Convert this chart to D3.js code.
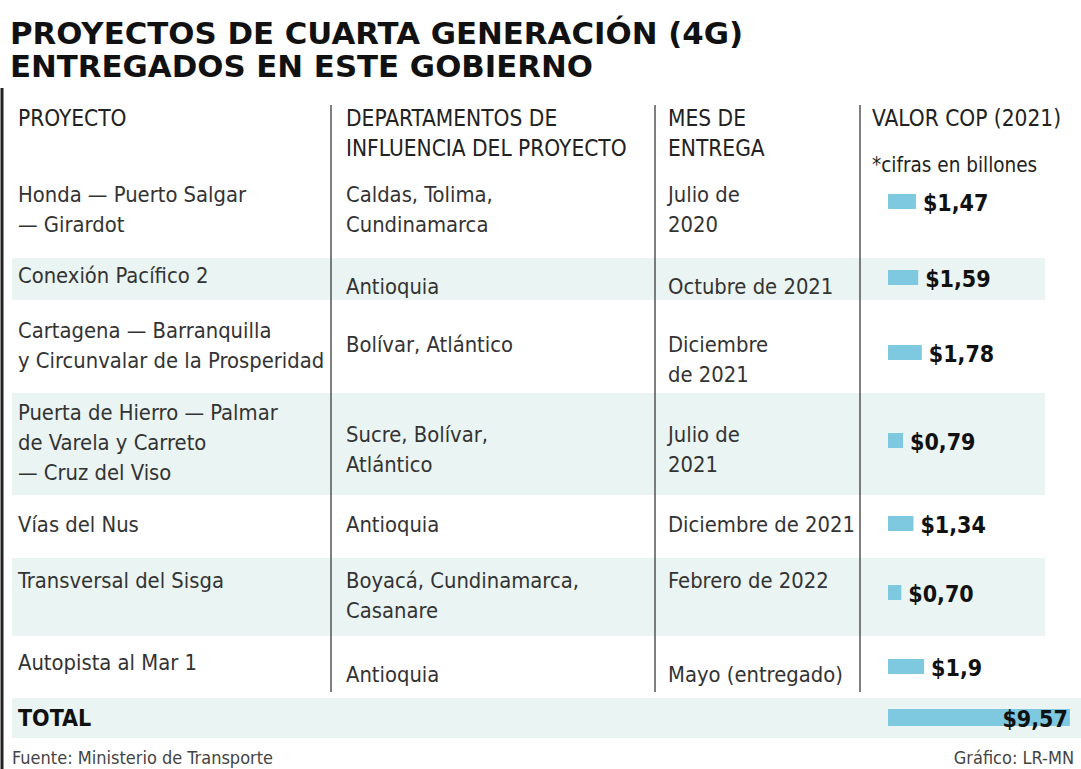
<!DOCTYPE html>
<html><head><meta charset="utf-8">
<script src="https://cdn.jsdelivr.net/npm/d3@7"></script>
<style>body{margin:0;background:#fff}</style>
</head><body><div id="graf"></div>
<script>
// Datos
const proyectos = [
  ["Honda — Puerto Salgar", "— Girardot"],
  ["Conexión Pacífico 2"],
  ["Cartagena — Barranquilla", "y Circunvalar de la Prosperidad"],
  ["Puerta de Hierro — Palmar", "de Varela y Carreto", "— Cruz del Viso"],
  ["Vías del Nus"],
  ["Transversal del Sisga"],
  ["Autopista al Mar 1"],
];
const departamentos = [
  ["Caldas, Tolima,", "Cundinamarca"],
  ["Antioquia"],
  ["Bolívar, Atlántico"],
  ["Sucre, Bolívar,", "Atlántico"],
  ["Antioquia"],
  ["Boyacá, Cundinamarca,", "Casanare"],
  ["Antioquia"],
];
const meses = [
  ["Julio de", "2020"],
  ["Octubre de 2021"],
  ["Diciembre", "de 2021"],
  ["Julio de", "2021"],
  ["Diciembre de 2021"],
  ["Febrero de 2022"],
  ["Mayo (entregado)"],
];
const valores = [1.47, 1.59, 1.78, 0.79, 1.34, 0.70, 1.9];
const etiquetas = ["$1,47", "$1,59", "$1,78", "$0,79", "$1,34", "$0,70", "$1,9"];
const total = 9.57, totalEtiqueta = "$9,57";
const encabezados = [["PROYECTO"], ["DEPARTAMENTOS DE", "INFLUENCIA DEL PROYECTO"], ["MES DE", "ENTREGA"], ["VALOR COP (2021)"]];

// Layout
const W = 1081, H = 769;
const font = "'DejaVu Sans Condensed',sans-serif";
const colX = [18, 346, 668, 872];
const divX = [331, 655, 860];
const rowTop = [175, 258, 300, 393, 495, 558, 636];
const rowBot = [258, 300, 393, 495, 558, 636, 692];
// baseline del primer renglón por columna
const y0 = [
  [202, 202, 202], [283, 294, 294], [338, 352, 352], [420, 442, 442],
  [532, 532, 532], [588, 588, 588], [670, 682, 682]
];
const barY = [202, 278, 353, 441, 524, 593, 667];

const svg = d3.select("#graf").append("svg").attr("width", W).attr("height", H)
  .style("font-family", font);

const x = d3.scaleLinear().domain([0, 10]).range([0, 190]);
const x0 = 888;

// filas sombreadas
svg.selectAll("rect.fila").data([1, 3, 5]).enter().append("rect")
  .attr("x", 12).attr("width", 1033)
  .attr("y", i => rowTop[i]).attr("height", i => rowBot[i] - rowTop[i])
  .attr("fill", "#eaf4f2");
svg.append("rect").attr("x", 12).attr("y", 698).attr("width", 1069).attr("height", 40).attr("fill", "#eaf4f2");

// borde izquierdo y divisores
svg.append("line").attr("x1", 2).attr("x2", 2).attr("y1", 88).attr("y2", H).attr("stroke", "#222").attr("stroke-width", 3);
svg.selectAll("line.div").data(divX).enter().append("line")
  .attr("x1", d => d).attr("x2", d => d).attr("y1", 105).attr("y2", 692)
  .attr("stroke", "#555").attr("stroke-width", 1.5);

// título
svg.selectAll("text.tit").data(["PROYECTOS DE CUARTA GENERACIÓN (4G)", "ENTREGADOS EN ESTE GOBIERNO"]).enter()
  .append("text").attr("x", 10).attr("y", (d, i) => 44 + i * 33)
  .attr("font-family", "'DejaVu Sans',sans-serif").attr("font-weight", "bold")
  .attr("font-size", 30.8).attr("fill", "#111").text(d => d);

// encabezados
encabezados.forEach((h, c) => h.forEach((t, j) => {
  svg.append("text").attr("x", colX[c]).attr("y", 126 + j * 30)
    .attr("font-size", 22.5).attr("fill", "#222").text(t);
}));
svg.append("text").attr("x", colX[3]).attr("y", 172).attr("font-size", 20.5).attr("fill", "#222").text("*cifras en billones");

// celdas
[proyectos, departamentos, meses].forEach((col, c) => {
  col.forEach((lines, r) => lines.forEach((t, j) => {
    svg.append("text").attr("x", colX[c]).attr("y", y0[r][c] + j * 30)
      .attr("font-size", 21.8).attr("fill", "#333").text(t);
  }));
});

// barras
svg.selectAll("rect.bar").data(valores).enter().append("rect")
  .attr("x", x0).attr("y", (d, i) => barY[i] - 8).attr("height", 15)
  .attr("width", d => x(d)).attr("fill", "#7ec8e0");
svg.selectAll("text.val").data(valores).enter().append("text")
  .attr("x", d => x0 + x(d) + 7).attr("y", (d, i) => barY[i] + 9)
  .attr("font-weight", "bold")
  .attr("font-size", 23).attr("fill", "#111").text((d, i) => etiquetas[i]);

// total
svg.append("text").attr("x", 18).attr("y", 726)
  .attr("font-weight", "bold").attr("font-size", 23).attr("fill", "#111").text("TOTAL");
svg.append("rect").attr("x", x0).attr("y", 709).attr("height", 17).attr("width", x(total)).attr("fill", "#7ec8e0");
svg.append("text").attr("x", x0 + x(total) - 2).attr("y", 727).attr("text-anchor", "end")
  .attr("font-weight", "bold")
  .attr("font-size", 23).attr("fill", "#111").text(totalEtiqueta);

// pie
svg.append("text").attr("x", 12).attr("y", 764).attr("font-size", 18).attr("fill", "#444").text("Fuente: Ministerio de Transporte");
svg.append("text").attr("x", 1074).attr("y", 764).attr("text-anchor", "end").attr("font-size", 18).attr("fill", "#444").text("Gráfico: LR-MN");
</script></body></html>
